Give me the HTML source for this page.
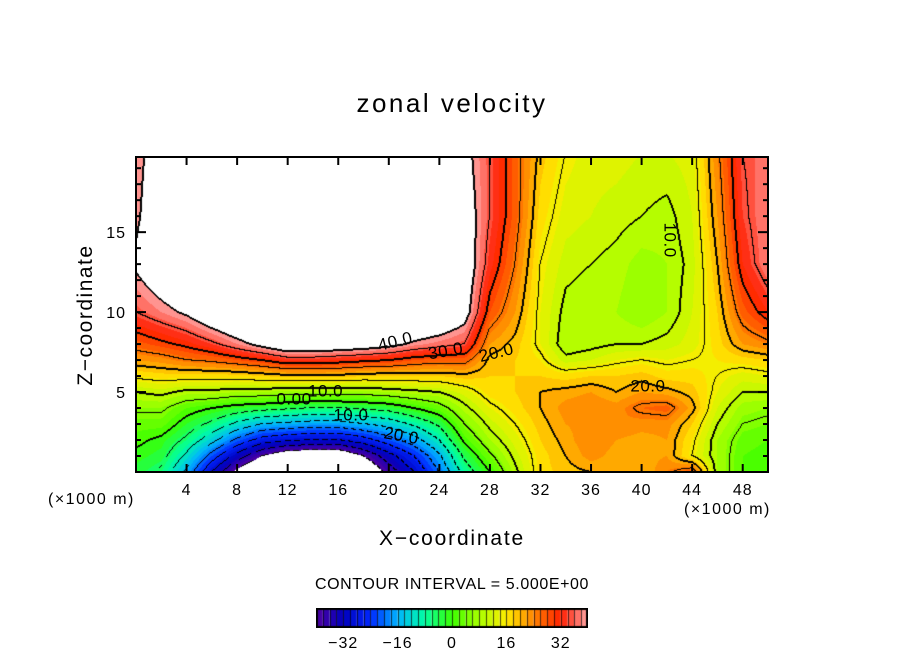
<!DOCTYPE html>
<html><head><meta charset="utf-8">
<style>
html,body{margin:0;padding:0;background:#fff;}
#root{position:relative;width:904px;height:654px;overflow:hidden;font-family:"Liberation Sans",sans-serif;color:#000;}
.t{position:absolute;white-space:nowrap;}
</style></head>
<body>
<div id="root">
<div class="t" style="left:0;width:904px;text-align:center;top:88px;font-size:26px;letter-spacing:2.5px;">zonal velocity</div>
<canvas id="field" width="632" height="315" style="position:absolute;left:136px;top:157px;"></canvas>
<svg id="axes" width="904" height="654" style="position:absolute;left:0;top:0;"></svg>
<div class="t" style="left:86px;top:315px;font-size:21px;letter-spacing:1.5px;transform:translate(-50%,-50%) rotate(-90deg);">Z&#8722;coordinate</div>
<div class="t" style="left:0;width:904px;text-align:center;top:527px;font-size:21px;letter-spacing:1.8px;">X&#8722;coordinate</div>
<div class="t" style="left:48px;top:491px;font-size:16px;letter-spacing:1.5px;">(×1000 m)</div>
<div class="t" style="left:684px;top:501px;font-size:16px;letter-spacing:1.5px;">(×1000 m)</div>
<div class="t" style="left:0;width:904px;text-align:center;top:576px;font-size:16px;letter-spacing:0.6px;">CONTOUR INTERVAL = 5.000E+00</div>
<canvas id="cbar" width="272" height="20" style="position:absolute;left:316px;top:608px;"></canvas>
</div>
<script>
// ---- data ----
const xCoords = [0,2,4,6,8,10,12,14,16,18,20,22,24,26,28,30,32,34,36,38,40,42,44,46,48,50];
const zCoords = [0,1,2,3,4,5,6,7,8,10,13,16,20];
const uCol00 = [-3,-1,1,3,6,10,16,22,27,35,41,39,38];
const uCol02 = [-6,-3,-1,3,6,11,17,23,29,38,46,45,44];
const uCol04 = [-16,-11,-6,-2,2,9,17,25,31,41,50,50,50];
const uCol06 = [-30,-22,-13,-6,0,9,17,26,34,46,50,50,50];
const uCol08 = [-42,-32,-21,-11,-2,8,17,28,38,50,50,50,50];
const uCol10 = [-50,-40,-27,-15,-3,8,18,30,42,50,50,50,50];
const uCol12 = [-55,-45,-29,-16,-4,7,19,33,46,50,50,50,50];
const uCol14 = [-56,-46,-30,-17,-5,7,19,33,46,50,50,50,50];
const uCol16 = [-55,-46,-30,-17,-5,7,19,32,45,50,50,50,50];
const uCol18 = [-48,-40,-27,-15,-4,7,18,31,44,50,50,50,50];
const uCol20 = [-38,-32,-22,-13,-3,8,18,30,42,50,50,50,50];
const uCol22 = [-30,-25,-17,-9,0,9,18,28,39,50,50,50,50];
const uCol24 = [-20,-16,-10,-4,3,10,18,27,37,48,50,50,50];
const uCol26 = [-8,-4,1,5,9,13,19,27,35,43,45,44,42];
const uCol28 = [0,4,8,11,14,17,18,19,22,28,33,35,35];
const uCol30 = [9,11,13,15,17,18,18,18,19,22,25,27,27];
const uCol32 = [17,17,18,19,20,20,18,16,14,14,15,17,19];
const uCol34 = [19,20,21,22,23,21,17,11,8,9,11,13,15];
const uCol36 = [20,23,24,23,24,22,18,12,9,8,10,12,13];
const uCol38 = [20,21,22,24,23,20,18,14,10,8,9,11,13];
const uCol40 = [20,21,21,23,26,22,19,15,10,6,7,10,12];
const uCol42 = [24,22,22,23,27,21,17,14,11,8,8,9,12];
const uCol44 = [28,15,16,18,21,19,17,15,13,12,11,12,13];
const uCol46 = [8,8,8,10,12,14,15,16,17,18,20,22,24];
const uCol48 = [2,2,3,5,7,10,13,17,22,27,32,34,35];
const uCol50 = [1,1,2,4,6,10,14,18,24,32,38,38,37];
const xTickLabels = ['4','8','12','16','20','24','28','32','36','40','44','48'];
const zTickLabels = ['5','10','15'];
const cbarTickLabels = ['-32','-16','0','16','32'];
const colorStops = [-40,-32,-24,-16,-8,0,8,16,24,32,40];
const contourLabels = [['40.0',20.5,8.2,-14],['30.0',24.5,7.6,-10],['20.0',28.5,7.5,-14],['10.0',15,5.1,0],['0.00',12.5,4.6,0],['10.0',17,3.6,0],['20.0',21,2.3,10],['20.0',40.5,5.4,0],['10.0',42.3,14.5,90]];

const columns = [uCol00,uCol02,uCol04,uCol06,uCol08,uCol10,uCol12,uCol14,uCol16,uCol18,uCol20,uCol22,uCol24,uCol26,uCol28,uCol30,uCol32,uCol34,uCol36,uCol38,uCol40,uCol42,uCol44,uCol46,uCol48,uCol50];
const stopRGB = [[80,0,160],[0,0,190],[0,40,255],[0,180,255],[0,255,160],[60,255,0],[170,255,0],[255,235,0],[255,130,0],[255,30,0],[255,165,165]];

const PX0=136, PY0=157, PW=632, PH=315, XMAX=50, ZMAX=19.7;
const sx = x => PX0 + x/XMAX*PW;
const sz = z => PY0 + PH - z/ZMAX*PH;

function seg(arr, v){ let i=0; while(i<arr.length-2 && v>arr[i+1]) i++; return i; }
function valueAt(x,z){
  const i=seg(xCoords,x), j=seg(zCoords,z);
  const tx=(x-xCoords[i])/(xCoords[i+1]-xCoords[i]);
  const tz=(z-zCoords[j])/(zCoords[j+1]-zCoords[j]);
  const a=columns[i][j], b=columns[i+1][j], c=columns[i][j+1], d=columns[i+1][j+1];
  return (a*(1-tx)+b*tx)*(1-tz)+(c*(1-tx)+d*tx)*tz;
}
function colorOf(v){
  if(v>40||v<-40) return [255,255,255];
  let k=0; while(k<colorStops.length-2 && v>colorStops[k+1]) k++;
  const t=(v-colorStops[k])/(colorStops[k+1]-colorStops[k]);
  const A=stopRGB[k],B=stopRGB[k+1];
  return [0,1,2].map(n=>Math.round(A[n]+(B[n]-A[n])*t));
}

// field
const cv=document.getElementById('field'), ctx=cv.getContext('2d');
const img=ctx.createImageData(PW,PH);
const vals=new Float32Array(PW*PH);
for(let py=0;py<PH;py++)for(let px=0;px<PW;px++){
  vals[py*PW+px]=valueAt((px+0.5)/PW*XMAX, (PH-py-0.5)/PH*ZMAX);
}
for(let py=0;py<PH;py++)for(let px=0;px<PW;px++){
  const v=vals[py*PW+px];
  const q=Math.floor(v/2)*2+1;
  let c=colorOf(q);
  const lv=Math.floor(v/5);
  let line=false;
  const nb=[[1,0],[0,1]];
  for(const [dx,dy] of nb){
    if(px+dx<PW&&py+dy<PH){
      const v2=vals[(py+dy)*PW+px+dx], l2=Math.floor(v2/5);
      if(l2!==lv){const L=Math.max(lv,l2)*5; if(Math.abs(L)<=40){line=true; if(L<0 && ((px+py)%9)>5) line=false;}}
    }
  }
  if(!line && px>0 && py>0){
    const v3=vals[py*PW+px-1], v4=vals[(py-1)*PW+px];
    for(const w of [v3,v4]){const l2=Math.floor(w/5); if(l2!==lv){const L=Math.max(lv,l2)*5; if(L%10===0&&Math.abs(L)<=40&&L>=0) line=true;}}
  }
  if(line) c=[0,0,0];
  const o=(py*PW+px)*4; img.data[o]=c[0];img.data[o+1]=c[1];img.data[o+2]=c[2];img.data[o+3]=255;
}
ctx.putImageData(img,0,0);

// colorbar
const cb=document.getElementById('cbar'), cctx=cb.getContext('2d');
const nCells=40, cw=272/nCells;
for(let k=0;k<nCells;k++){
  const v=-40+k*2+1;
  const c=colorOf(v);
  cctx.fillStyle='rgb('+c.join(',')+')';
  cctx.fillRect(k*cw,0,cw,20);
  cctx.fillStyle='rgba(0,0,0,0.7)';
  cctx.fillRect(Math.round(k*cw),0,1,20);
}
cctx.strokeStyle='#000';cctx.lineWidth=2;cctx.strokeRect(1,1,270,18);

// axes svg
const svg=document.getElementById('axes'), NS='http://www.w3.org/2000/svg';
function mk(tag,attrs){const e=document.createElementNS(NS,tag);for(const k in attrs)e.setAttribute(k,attrs[k]);svg.appendChild(e);return e;}
const frame=mk('rect',{x:PX0,y:PY0,width:PW,height:PH,fill:'none',stroke:'#000','stroke-width':2});


for(let x=1;x<XMAX;x++){
  const L=(x%4===0)?8:0; if(!L) continue;
  const t1=mk('line',{x1:sx(x),x2:sx(x),y1:PY0+PH,y2:PY0+PH-L,stroke:'#000','stroke-width':2});
  
  
  const t2=mk('line',{x1:sx(x),x2:sx(x),y1:PY0,y2:PY0+L,stroke:'#000','stroke-width':2});
  
  
}
for(let z=1;z<ZMAX;z++){
  const L=(z%5===0)?10:5;
  const t1=mk('line',{x1:PX0,x2:PX0+L,y1:sz(z),y2:sz(z),stroke:'#000','stroke-width':2});
  
  
  const t2=mk('line',{x1:PX0+PW,x2:PX0+PW-L,y1:sz(z),y2:sz(z),stroke:'#000','stroke-width':2});
  
  
}
const tf='Liberation Sans, sans-serif';
xTickLabels.forEach(s=>{
  const t=mk('text',{x:sx(+s),y:495,'text-anchor':'middle','font-size':16,'letter-spacing':1,'font-family':tf});
  t.textContent=s;
  
  
});
zTickLabels.forEach(s=>{
  const t=mk('text',{x:126,y:sz(+s)+6,'text-anchor':'end','font-size':16,'letter-spacing':1,'font-family':tf});
  t.textContent=s;
  
  
});
cbarTickLabels.forEach(s=>{
  const v=+s; const x=316+(v+40)/80*272;
  const t=mk('text',{x:x,y:648,'text-anchor':'middle','font-size':16,'letter-spacing':1,'font-family':tf});
  t.textContent=s.replace('-','\u2212');
  
  
});
contourLabels.forEach(([s,x,z,r])=>{
  const t=mk('text',{x:sx(x),y:sz(z)+6,'text-anchor':'middle','font-size':17,'letter-spacing':0.5,'font-family':tf,transform:'rotate('+r+' '+sx(x)+' '+sz(z)+')'});
  t.textContent=s;
  
  
});
</script>
</body></html>
